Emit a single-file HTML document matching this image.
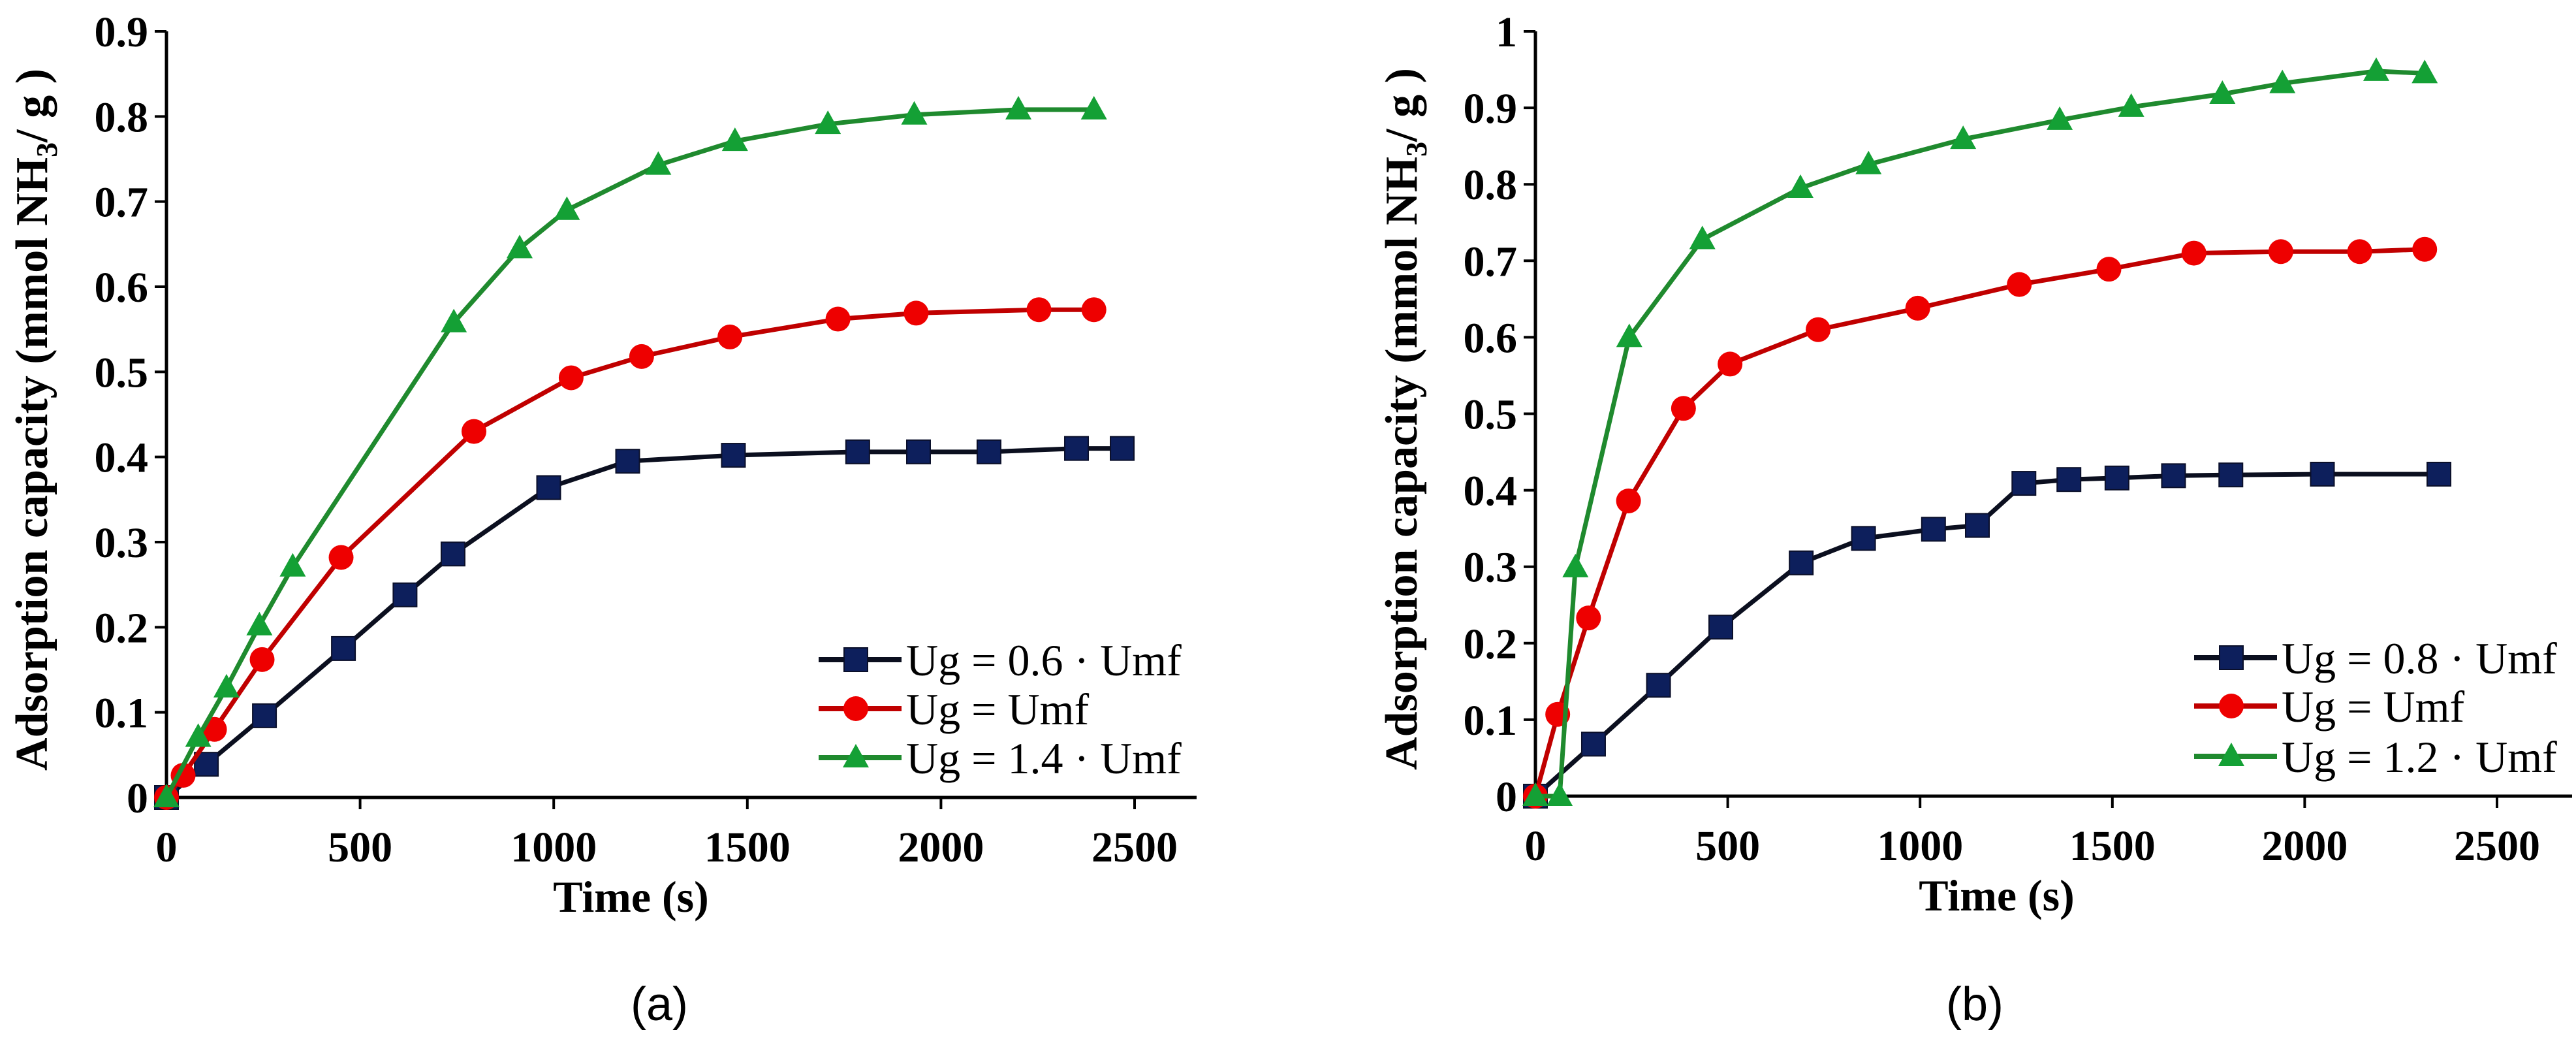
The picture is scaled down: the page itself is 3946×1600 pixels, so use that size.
<!DOCTYPE html>
<html><head><meta charset="utf-8"><style>
html,body{margin:0;padding:0;background:#fff;}
svg{display:block;}
text{font-family:"Liberation Serif",serif;}
</style></head><body>
<svg id="fig" width="3946" height="1600" viewBox="0 0 3946 1600" xmlns="http://www.w3.org/2000/svg"></svg>
<script>
const xTicks=[0,500,1000,1500,2000,2500];
const yTicksA=[0,0.1,0.2,0.3,0.4,0.5,0.6,0.7,0.8,0.9];
const yTicksB=[0,0.1,0.2,0.3,0.4,0.5,0.6,0.7,0.8,0.9,1];
const yLabelsB=["0","0.1","0.2","0.3","0.4","0.5","0.6","0.7","0.8","0.9","1"];
const aBlackX=[0,103,253,457,616,740,987,1191,1464,1785,1942,2124,2350,2468];
const aBlackY=[0,0.039,0.096,0.175,0.238,0.286,0.364,0.395,0.402,0.406,0.406,0.406,0.41,0.41];
const aRedX=[0,43,124,247,451,794,1045,1227,1455,1734,1936,2253,2395];
const aRedY=[0,0.026,0.08,0.162,0.282,0.43,0.493,0.518,0.541,0.562,0.569,0.573,0.573];
const aGreenX=[0,82,155,240,326,742,912,1034,1270,1468,1708,1931,2200,2395];
const aGreenY=[0,0.071,0.129,0.202,0.271,0.558,0.645,0.69,0.743,0.771,0.791,0.802,0.808,0.808];
const bBlackX=[0,151,320,482,691,853,1035,1149,1270,1387,1512,1659,1808,2046,2349];
const bBlackY=[0,0.068,0.145,0.221,0.305,0.337,0.349,0.354,0.409,0.414,0.416,0.419,0.42,0.421,0.421];
const bRedX=[0,58,138,242,385,506,735,994,1258,1491,1712,1938,2143,2312];
const bRedY=[0,0.107,0.233,0.386,0.507,0.565,0.61,0.638,0.669,0.689,0.71,0.712,0.712,0.715];
const bGreenX=[0,63,104,244,434,689,866,1112,1363,1549,1786,1942,2186,2312];
const bGreenY=[0,0,0.299,0.6,0.728,0.795,0.826,0.859,0.884,0.901,0.918,0.932,0.948,0.945];
const legA=["Ug = 0.6 · Umf","Ug = Umf","Ug = 1.4 · Umf"];
const legB=["Ug = 0.8 · Umf","Ug = Umf","Ug = 1.2 · Umf"];

const NS="http://www.w3.org/2000/svg";
const svg=document.getElementById('fig');
function mk(tag,attrs,parent){const e=document.createElementNS(NS,tag);for(const k in attrs)e.setAttribute(k,attrs[k]);(parent||svg).appendChild(e);return e;}
function marker(g,type,cx,cy,color){
  let m;
  if(type==='sq')m=mk('rect',{x:cx-18,y:cy-18,width:36,height:36,fill:color,stroke:'#0a0f2a','stroke-width':2},g);
  else if(type==='ci')m=mk('circle',{cx:cx,cy:cy,r:19,fill:color},g);
  else m=mk('polygon',{points:`${cx},${cy-21} ${cx+20},${cy+15} ${cx-20},${cy+15}`,fill:color},g);
  return m;
}
function chart(cfg){
  const g=mk('g',{});
  
  
  const xs=v=>cfg.x0+(v/2500)*(cfg.x1-cfg.x0);
  const ys=v=>cfg.y0-(v/cfg.ymax)*(cfg.y0-cfg.y1);
  const ax=mk('g',{},g);
  
  
  mk('line',{x1:cfg.x0,y1:cfg.y1,x2:cfg.x0,y2:cfg.y0,stroke:'#000','stroke-width':5},ax);
  mk('line',{x1:cfg.x0-18,y1:cfg.y0,x2:cfg.xend,y2:cfg.y0,stroke:'#000','stroke-width':5},ax);
  cfg.yt.forEach((v,i)=>{
    const y=ys(v);
    mk('line',{x1:cfg.x0-18,y1:y,x2:cfg.x0,y2:y,stroke:'#000','stroke-width':4},ax);
    const t=mk('text',{x:cfg.x0-28,y:y+23,'text-anchor':'end','font-size':66,'font-weight':'bold'},ax);
    t.textContent=cfg.yl[i];
    
    
  });
  xTicks.forEach(v=>{
    const x=xs(v);
    mk('line',{x1:x,y1:cfg.y0,x2:x,y2:cfg.y0+18,stroke:'#000','stroke-width':4},ax);
    const t=mk('text',{x:x,y:cfg.y0+98,'text-anchor':'middle','font-size':66,'font-weight':'bold'},ax);
    t.textContent=String(v);
    
    
  });
  const xt=mk('text',{x:(cfg.x0+cfg.x1)/2-30,y:cfg.y0+175,'text-anchor':'middle','font-size':68,'font-weight':'bold'},g);
  xt.textContent='Time (s)';
  
  
  const yt=mk('text',{transform:`translate(${cfg.ytx},${(cfg.y0+cfg.y1)/2+8}) rotate(-90)`,'text-anchor':'middle','font-size':70,'font-weight':'bold'},g);
  yt.innerHTML='Adsorption  capacity (mmol NH<tspan font-size="46" dy="15">3</tspan><tspan dy="-15">/ g )</tspan>';
  
  
  const series=[
    {X:cfg.s[0][0],Y:cfg.s[0][1],c:'#0b0f1f',m:'sq',mc:'#0d1f5c',n:'series-black'},
    {X:cfg.s[1][0],Y:cfg.s[1][1],c:'#c00000',m:'ci',mc:'#ee0000',n:'series-red'},
    {X:cfg.s[2][0],Y:cfg.s[2][1],c:'#1f8a2e',m:'tr',mc:'#14a035',n:'series-green'}];
  series.forEach((s,si)=>{
    const sg=mk('g',{},g);
    
    
    const pts=s.X.map((x,i)=>xs(x)+','+ys(s.Y[i])).join(' ');
    const pl=mk('polyline',{points:pts,fill:'none',stroke:s.c,'stroke-width':7,'stroke-linejoin':'round'},sg);
    
    
    s.X.forEach((x,i)=>{
      const m=marker(sg,s.m,xs(x),ys(s.Y[i]),s.mc);
      
      
    });
    const lg=mk('g',{},g);
    
    
    const ly=cfg.legY[si];
    mk('line',{x1:cfg.legX,y1:ly,x2:cfg.legX+127,y2:ly,stroke:s.c,'stroke-width':8},lg);
    marker(lg,s.m,cfg.legX+57,ly,s.mc);
    const lt=mk('text',{x:cfg.legX+134,y:ly+24,'font-size':68},lg);
    lt.textContent=cfg.leg[si];
  });
  const cap=mk('text',{x:cfg.capx,y:1562,'text-anchor':'middle','font-size':72},g);
  cap.setAttribute('style','font-family:"Liberation Sans",sans-serif');
  cap.textContent=cfg.cap;
  
  
}
chart({name:'chart-a',x0:255,x1:1738,xend:1833,y0:1221,y1:48,ymax:0.9,yt:yTicksA,yl:yTicksA.map(v=>String(v)),ytx:72,
  s:[[aBlackX,aBlackY],[aRedX,aRedY],[aGreenX,aGreenY]],legX:1254,legY:[1010,1085,1160],leg:legA,cap:'(a)',capx:1010});
chart({name:'chart-b',x0:2352,x1:3825,xend:3940,y0:1219,y1:48,ymax:1,yt:yTicksB,yl:yLabelsB,ytx:2170,
  s:[[bBlackX,bBlackY],[bRedX,bRedY],[bGreenX,bGreenY]],legX:3361,legY:[1007,1081,1158],leg:legB,cap:'(b)',capx:3025});
</script>
</body></html>
